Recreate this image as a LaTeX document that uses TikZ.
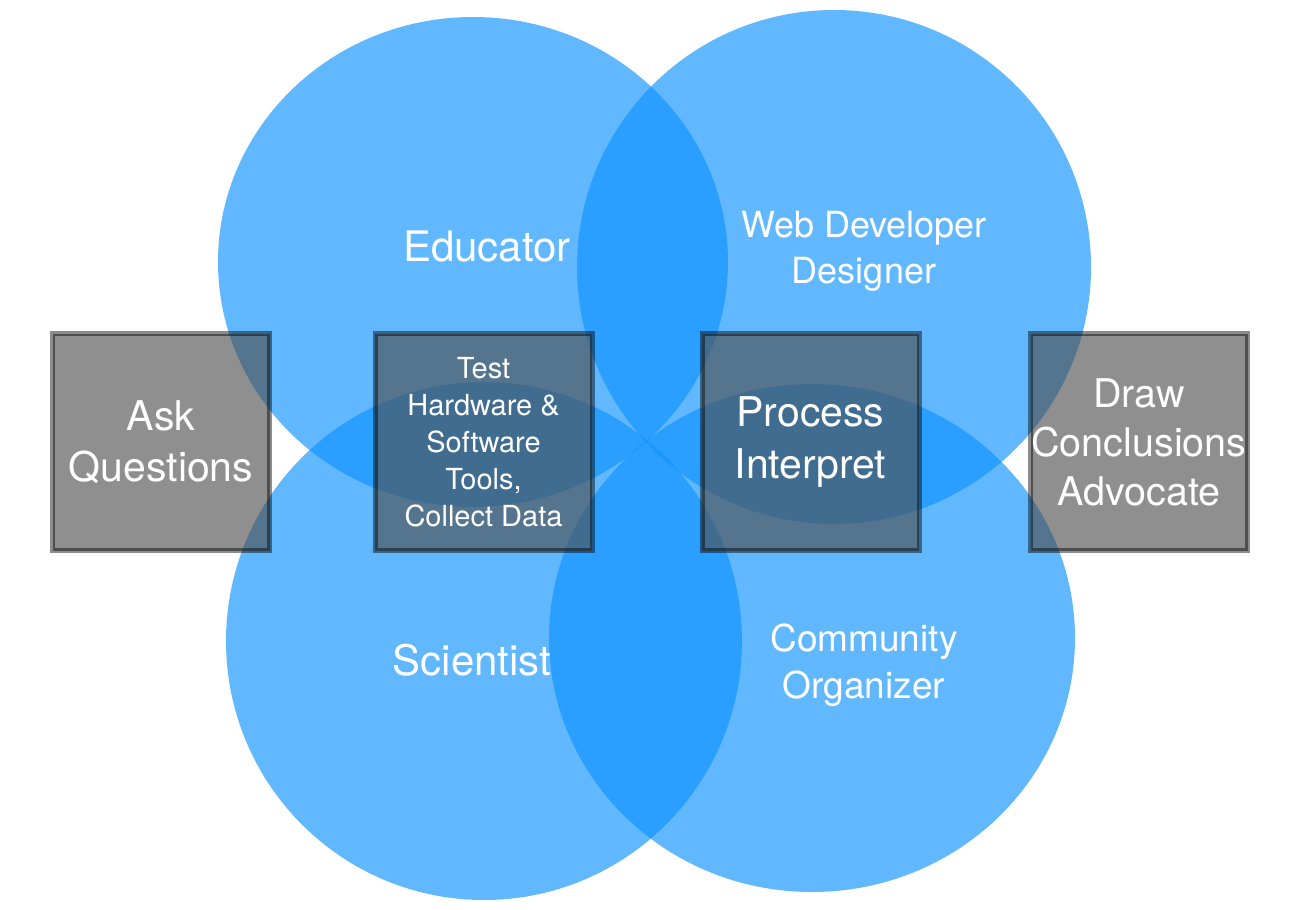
\documentclass[tikz,border=0pt]{standalone}
\usepackage{fontspec}
\setmainfont{TeX Gyre Heros}
\usetikzlibrary{positioning,shapes.geometric}
\definecolor{bubbleblue}{RGB}{13,146,255}
\definecolor{boxgray}{RGB}{78,78,78}

\begin{document}
\begin{tikzpicture}[x=1pt,y=-1pt,
    bubble/.style={ellipse,fill=bubbleblue,fill opacity=0.65,inner sep=0pt},
    stagebox/.style={rectangle,fill=boxgray,fill opacity=0.63,draw=black,
      draw opacity=0.45,line width=5pt,minimum width=217pt,minimum height=217pt,
      outer sep=0pt,inner sep=0pt,text opacity=1,text=white,align=center},
    rolelabel/.style={text=white,align=center}]
  \useasboundingbox (0,0) rectangle (1296,910);
  % four roles
  \node[bubble,minimum width=510pt,minimum height=490pt] (educator) at (473,262) {};
  \node[bubble,minimum width=514pt,minimum height=514pt] (webdev) at (834,267) {};
  \node[bubble,minimum width=516pt,minimum height=518pt] (scientist) at (484,641) {};
  \node[bubble,minimum width=526pt,minimum height=508pt] (community) at (812,638) {};
  % steps of the process
  \node[stagebox,font=\fontsize{41}{51}\selectfont] (ask) at (161,442) {Ask\\Questions};
  \node[stagebox,font=\fontsize{29}{37}\selectfont,right=105.5pt of ask] (test) {Test\\Hardware \&\\Software\\Tools,\\Collect Data};
  \node[stagebox,font=\fontsize{41}{52}\selectfont,right=110pt of test] (process) {Process\\Interpret};
  \node[stagebox,font=\fontsize{39.5}{49}\selectfont,right=111.5pt of process] (draw) {Draw\\Conclusions\\Advocate};
  % role names
  \node[rolelabel,font=\fontsize{42}{50}\selectfont] (educatorlabel) at (487,247) {Educator};
  \node[rolelabel,font=\fontsize{36}{46}\selectfont] (webdevlabel) at (864,251) {Web Developer\\Designer};
  \node[rolelabel,font=\fontsize{42}{50}\selectfont] (scientistlabel) at (472,660) {Scientist};
  \node[rolelabel,font=\fontsize{37}{47}\selectfont] (communitylabel) at (864,665) {Community\\Organizer};
\end{tikzpicture}
\end{document}
